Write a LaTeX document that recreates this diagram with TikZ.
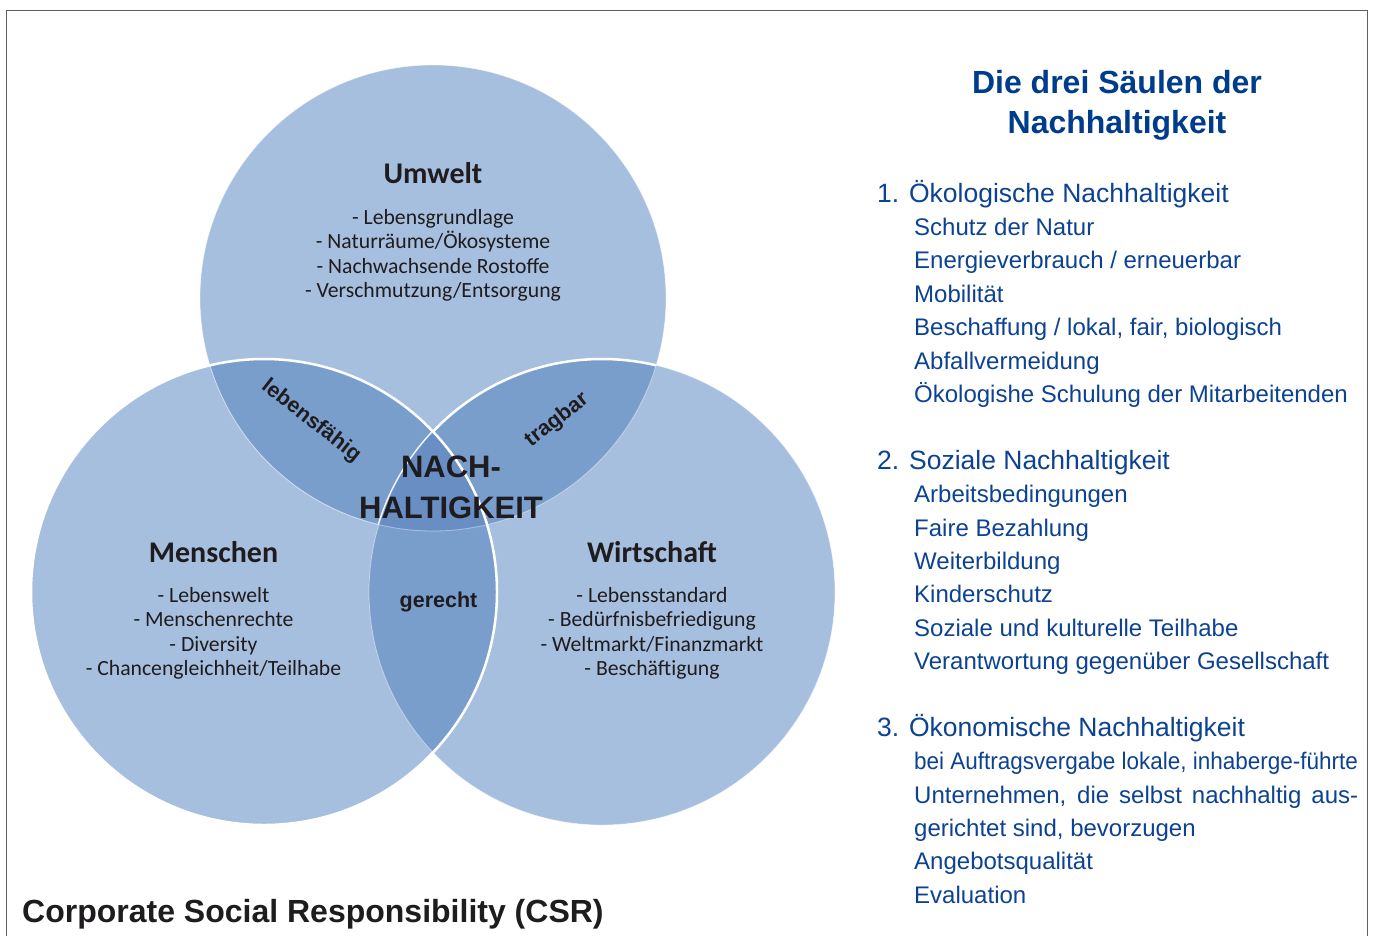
\documentclass[tikz,border=0pt]{standalone}
\usepackage{fontspec}
\usepackage{graphicx}
\setmainfont{Liberation Sans}
\newfontfamily\calibrifont{Carlito}

\definecolor{circleblue}{RGB}{167,191,222}
\definecolor{pairblue}{RGB}{122,158,204}
\definecolor{coreblue}{RGB}{104,142,196}
\definecolor{pillarblue}{RGB}{12,66,145}
\definecolor{titleblue}{RGB}{0,60,140}
\definecolor{framegray}{RGB}{95,95,95}
\definecolor{darktext}{RGB}{30,28,30}

\begin{document}
\begin{tikzpicture}[x=1pt, y=-1pt,
    every node/.style={inner sep=0pt},
    circle_title/.style={font=\calibrifont\bfseries\fontsize{30}{36}\selectfont, text=darktext, anchor=base},
    circle_list/.style={font=\calibrifont\fontsize{21.7}{24.5}\selectfont, text=darktext, align=center, anchor=north},
    lens_label/.style={font=\bfseries\fontsize{21.5}{26}\selectfont, text=darktext},
    pillar_head/.style={font=\fontsize{26.5}{32}\selectfont, text=pillarblue, anchor=base west},
    pillar_list/.style={font=\fontsize{24}{33.4}\selectfont, text=pillarblue, align=left, anchor=north west},
    faint_line/.style={draw=white, draw opacity=0.45, line width=0.8pt},
    solid_line/.style={draw=white, line width=2.5pt}
]
    \useasboundingbox (0,0) rectangle (1373,935);
    \draw[framegray, line width=1.3pt] (6.5,950) |- (1367.5,10.5) -- (1367.5,950);

    \coordinate (umwelt_center) at (433,298);
    \coordinate (menschen_center) at (264,592);
    \coordinate (wirtschaft_center) at (602,592);

    % the three circles
    \fill[circleblue] (umwelt_center) circle[radius=233pt];
    \fill[circleblue] (menschen_center) circle[radius=233pt];
    \fill[circleblue] (wirtschaft_center) circle[radius=233pt];

    % pairwise overlaps
    \begin{scope}
        \clip (umwelt_center) circle[radius=233pt];
        \fill[pairblue] (menschen_center) circle[radius=233pt];
        \fill[pairblue] (wirtschaft_center) circle[radius=233pt];
    \end{scope}
    \begin{scope}
        \clip (menschen_center) circle[radius=233pt];
        \fill[pairblue] (wirtschaft_center) circle[radius=233pt];
    \end{scope}

    \path[faint_line] (umwelt_center) circle[radius=233pt];
    \path[faint_line] (wirtschaft_center) circle[radius=233pt];
    \begin{scope}
        \clip (umwelt_center) circle[radius=233pt];
        \path[solid_line] (wirtschaft_center) circle[radius=233pt];
    \end{scope}

    % common core
    \begin{scope}
        \clip (umwelt_center) circle[radius=233pt];
        \clip (menschen_center) circle[radius=233pt];
        \fill[coreblue] (wirtschaft_center) circle[radius=233pt];
        \path[faint_line] (umwelt_center) circle[radius=233pt];
        \path[faint_line] (wirtschaft_center) circle[radius=233pt];
    \end{scope}
    \path[solid_line] (menschen_center) circle[radius=233pt];

    % circle texts
    \node (umwelt) [circle_title, shift={(433,183)}] {Umwelt};
    \node (umwelt_list) [circle_list, shift={(433,209)}]
    {
        - Lebensgrundlage\\
        - Naturräume/Ökosysteme\\
        - Nachwachsende Rostoffe\\
        - Verschmutzung/Entsorgung
    };
    \node (menschen) [circle_title, shift={(213.5,562)}] {Menschen};
    \node (menschen_list) [circle_list, shift={(213.5,587)}]
    {
        - Lebenswelt\\
        - Menschenrechte\\
        - Diversity\\
        - Chancengleichheit/Teilhabe
    };
    \node (wirtschaft) [circle_title, shift={(652,562)}] {Wirtschaft};
    \node (wirtschaft_list) [circle_list, shift={(652,587)}]
    {
        - Lebensstandard\\
        - Bedürfnisbefriedigung\\
        - Weltmarkt/Finanzmarkt\\
        - Beschäftigung
    };

    % overlap labels
    \node (lebensfaehig) [lens_label, shift={(311,421)}, rotate=-38] {lebensfähig};
    \node (tragbar) [lens_label, shift={(557,420)}, rotate=38] {tragbar};
    \node (gerecht) [lens_label, anchor=base, shift={(438.5,607)}] {gerecht};
    \node (nachhaltigkeit) [font=\bfseries\fontsize{31}{41}\selectfont, text=darktext, align=center, anchor=north, shift={(451,456)}]
    {
        NACH-\\
        HALTIGKEIT
    };

    % the three pillars
    \node (pillar_title) [font=\bfseries\fontsize{32}{40}\selectfont, text=titleblue, align=center, anchor=north, shift={(1117,70)}]
    {
        Die drei Säulen der\\
        Nachhaltigkeit
    };
    \node (oekologie) [pillar_head, shift={(877,202)}] {1. Ökologische Nachhaltigkeit};
    \node (oekologie_list) [pillar_list, shift={(914,218)}]
    {
        Schutz der Natur\\
        Energieverbrauch / erneuerbar\\
        Mobilität\\
        Beschaffung / lokal, fair, biologisch\\
        Abfallvermeidung\\
        Ökologishe Schulung der Mitarbeitenden
    };
    \node (soziales) [pillar_head, shift={(877,469)}] {2. Soziale Nachhaltigkeit};
    \node (soziales_list) [pillar_list, shift={(914,485)}]
    {
        Arbeitsbedingungen\\
        Faire Bezahlung\\
        Weiterbildung\\
        Kinderschutz\\
        Soziale und kulturelle Teilhabe\\
        Verantwortung gegenüber Gesellschaft
    };
    \node (oekonomie) [pillar_head, shift={(877,736)}] {3. Ökonomische Nachhaltigkeit};
    \node (oekonomie_list) [pillar_list, shift={(914,752)}]
    {
        \scalebox{0.937}[1]{bei Auftragsvergabe lokale, inhaberge-führte}\\
        \makebox[444pt][s]{Unternehmen, die selbst nachhaltig aus-}\\
        gerichtet sind, bevorzugen\\
        Angebotsqualität\\
        Evaluation
    };

    \node (csr) [font=\bfseries\fontsize{32}{38}\selectfont, text=darktext, anchor=base west, shift={(22,922)}]
    {
        Corporate Social Responsibility (CSR)
    };
\end{tikzpicture}
\end{document}
